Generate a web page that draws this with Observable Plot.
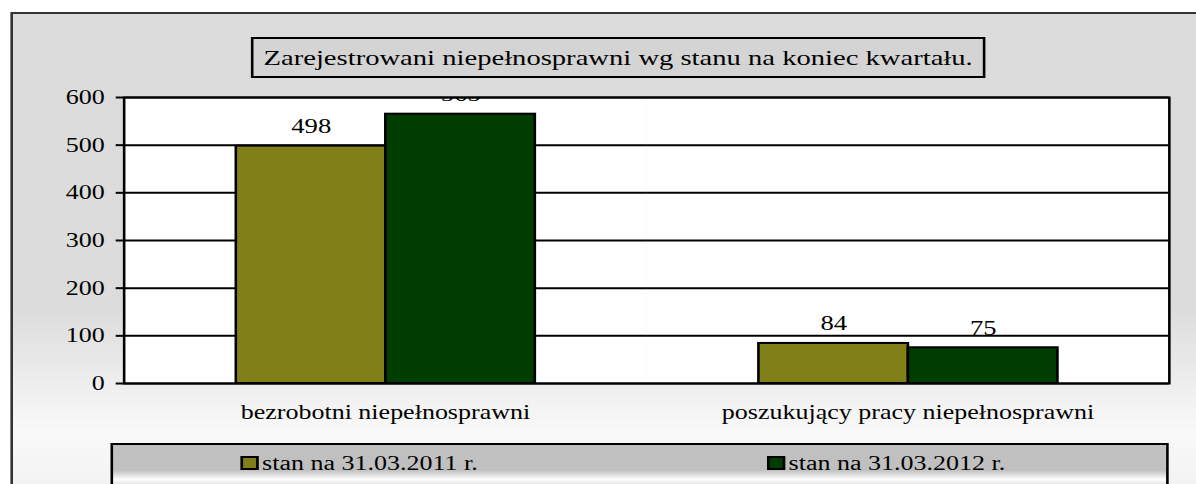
<!DOCTYPE html>
<html><head><meta charset="utf-8">
<script src="https://cdn.jsdelivr.net/npm/d3@7"></script>
<script src="https://cdn.jsdelivr.net/npm/@observablehq/plot@0.6"></script>
<style>
html,body{margin:0;padding:0;background:#fff;overflow:hidden;width:1196px;height:484px;}
#stage{position:absolute;left:0;top:0;width:920px;height:484px;transform:scaleX(1.3);transform-origin:0 0;font-family:"Liberation Serif","Times New Roman",serif;color:#000;}
#frame{position:absolute;left:7.7px;top:12px;width:960px;height:520px;box-sizing:border-box;border:2px solid #333;
  background:linear-gradient(to bottom,#dcdcdc 0%,#dcdcdc 57%,#f9f9f9 81%,#f3f3f3 90%,#ececec 100%);}
#title{position:absolute;left:193px;top:37px;width:565px;height:41px;box-sizing:border-box;border:2px solid #000;background:#d4d4d4;font-size:22px;line-height:37px;text-align:center;white-space:nowrap;}
#chart{position:absolute;left:0;top:85px;}
#legend{position:absolute;left:84.6px;top:443px;width:814px;height:46px;box-sizing:border-box;border:2px solid #000;
  background:linear-gradient(to bottom,#c0c0c0 0%,#c0c0c0 60%,#ffffff 82%,#d6d6d6 100%);display:grid;grid-template-columns:1fr 1fr;}
.item{padding-left:98px;display:flex;align-items:center;font-size:20px;height:36px;white-space:nowrap;}
.sw{width:14px;height:14px;box-sizing:border-box;border:2px solid #000;margin-right:3px;}
</style>
</head><body>
<div id="stage">
  <div id="frame"></div>
  <div id="title"></div>
  <div id="chart"></div>
  <div id="legend"></div>
</div>
<script>
const titleText = "Zarejestrowani niepełnosprawni wg stanu na koniec kwartału.";
const categories = ["bezrobotni niepełnosprawni", "poszukujący pracy niepełnosprawni"];
const series = ["stan na 31.03.2011 r.", "stan na 31.03.2012 r."];
const values2011 = [498, 84];
const values2012 = [565, 75];
const colors = ["#817f18", "#003d00"];
const yTicks = [0, 100, 200, 300, 400, 500, 600];

const data = categories.flatMap((c, i) => [
  {cat: c, s: series[0], v: values2011[i]},
  {cat: c, s: series[1], v: values2012[i]}
]);

document.getElementById("title").textContent = titleText;

const chart = Plot.plot({
  width: 920, height: 345,
  marginLeft: 94.6, marginRight: 20, marginTop: 12, marginBottom: 47,
  style: {fontFamily: "Liberation Serif, Times New Roman, serif", fontSize: "20px", background: "transparent", color: "#000", overflow: "visible"},
  fx: {domain: categories, padding: 0, label: null, axis: null},
  x: {domain: series, paddingInner: 0, paddingOuter: 0.745, axis: null},
  y: {domain: [0, 600], axis: null},
  color: {domain: series, range: colors},
  marks: [
    Plot.frame({fill: "white", stroke: null}),
    Plot.ruleY(yTicks, {stroke: "#000", strokeWidth: 2}),
    Plot.barY(data, {fx: "cat", x: "s", y: "v", fill: "s", stroke: "#000", strokeWidth: 2}),
    Plot.text(data, {fx: "cat", x: "s", y: "v", text: d => String(d.v), lineAnchor: "bottom", dy: -13, clip: true, fontSize: 20.5, fill: "#000"}),
    Plot.axisY({ticks: yTicks, tickSize: 6, tickPadding: 9, strokeWidth: 2, stroke: "#000", fontSize: 20, label: null, tickFormat: d => String(d)}),
    Plot.axisFx({anchor: "bottom", tickSize: 0, tickPadding: 21, label: null, fontSize: 20}),
    Plot.frame({facet: "super", stroke: "#000", strokeWidth: 2})
  ]
});
document.getElementById("chart").appendChild(chart);

const legend = d3.select("#legend");
series.forEach((s, i) => {
  const it = legend.append("div").attr("class", "item");
  it.append("div").attr("class", "sw").style("background", colors[i]);
  it.append("span").text(s);
});
</script>
</body></html>
